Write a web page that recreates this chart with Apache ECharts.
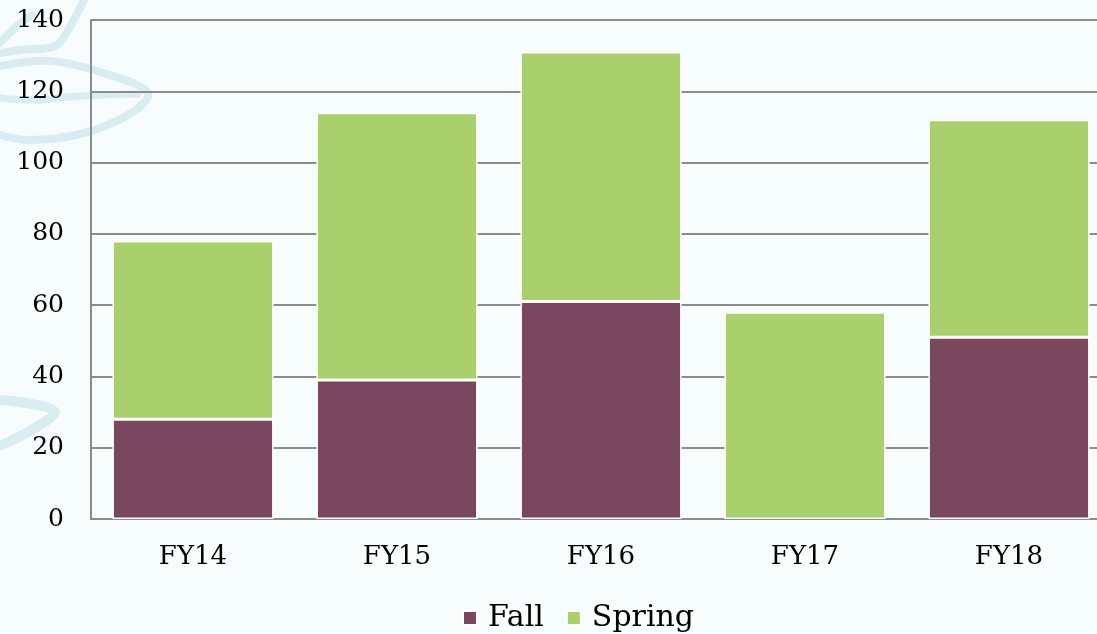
<!DOCTYPE html>
<html><head><meta charset="utf-8">
<script src="https://cdn.jsdelivr.net/npm/echarts@6/dist/echarts.min.js"></script>
<style>html,body{margin:0;padding:0;background:#f7fcfd;}#c{width:1097px;height:634px;}</style>
</head><body><div id="c"></div>
<script>
const categories = ['FY14','FY15','FY16','FY17','FY18'];
const fall = [28, 39, 61, 0, 51];
const spring = [50, 75, 70, 58, 61];
const yTicks = {min:0, max:140, interval:20};

const chart = echarts.init(document.getElementById('c'));
const font = 'DejaVu Serif';
const swirl = '#d9edf1';
function deco(points, w){
  return {type:'polyline', z:-10, silent:true, shape:{points:points, smooth:0.35},
    style:{stroke:swirl, lineWidth:w, fill:null, lineCap:'round'}};
}
chart.setOption({
  backgroundColor:'#f7fcfd',
  animation:false,
  graphic:[
    deco([[0,66],[50,61],[100,72],[148,93],[128,115],[80,134],[30,140],[0,135]], 8),
    deco([[0,98],[35,100],[80,96],[138,94]], 7),
    deco([[84,0],[68,30],[55,46],[20,50],[0,53]], 8),
    deco([[0,43],[16,27],[32,15]], 8),
    deco([[0,400],[55,412],[0,446]], 10)
  ],
  grid:{left:91, right:-14, top:20, bottom:115, containLabel:false, outerBoundsMode:'none'},
  legend:{bottom:-4, left:457, itemWidth:14, itemHeight:14, itemGap:22, icon:'rect',
    textStyle:{fontFamily:font, fontSize:30, color:'#000', padding:[0,0,0,6]}},
  xAxis:{type:'category', data:categories,
    axisLine:{lineStyle:{color:'#8c8c8c', width:2}}, axisTick:{show:false},
    axisLabel:{fontFamily:font, fontSize:26, color:'#000', margin:25}},
  yAxis:{type:'value', min:yTicks.min, max:yTicks.max, interval:yTicks.interval,
    axisLine:{show:true, lineStyle:{color:'#8c8c8c', width:2}}, axisTick:{show:false},
    splitLine:{lineStyle:{color:'#8c8c8c', width:2}},
    axisLabel:{fontFamily:font, fontSize:25, color:'#000', margin:27}},
  series:[
    {name:'Fall', type:'bar', stack:'t', data:fall.map(v => v === 0 ? null : v), barCategoryGap:'21%',
      itemStyle:{color:'#79475e', borderColor:'#ffffff', borderWidth:1.5}},
    {name:'Spring', type:'bar', stack:'t', data:spring, barCategoryGap:'21%',
      itemStyle:{color:'#a9d06a', borderColor:'#ffffff', borderWidth:1.5}}
  ]
});
</script></body></html>
